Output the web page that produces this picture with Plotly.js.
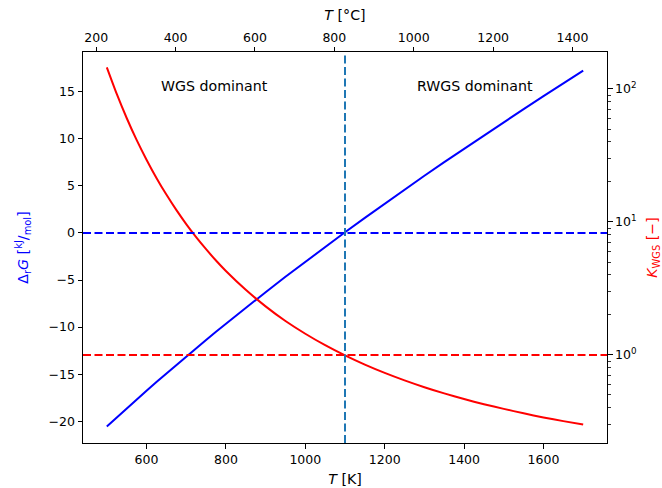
<!DOCTYPE html>
<html><head><meta charset="utf-8">
<script src="https://cdn.plot.ly/plotly-3.0.1.min.js"></script>
<style>html,body{margin:0;padding:0;background:#fff}</style>
</head><body>
<div id="chart" style="width:662px;height:488px"></div>
<script>
// Temperature grid [K]
const temperatureK = [500,525,550,575,600,625,650,675,700,725,750,775,800,850,900,950,1000,1050,1100,1150,1200,1250,1300,1350,1400,1450,1500,1550,1600,1650,1700];
// Gibbs free energy of reaction [kJ/mol]
const deltaG = [-20.55,-19.58,-18.63,-17.68,-16.75,-15.83,-14.92,-14.01,-13.12,-12.24,-11.36,-10.50,-9.64,-7.95,-6.29,-4.66,-3.06,-1.48,0.07,1.60,3.11,4.60,6.06,7.51,8.94,10.35,11.75,13.14,14.51,15.87,17.22];
// Equilibrium constant K_WGS [-]
const kWGS = [145.3,91.7,60.5,41.4,29.4,21.44,16.07,12.32,9.64,7.69,6.24,5.13,4.28,3.09,2.32,1.80,1.444,1.184,0.992,0.846,0.733,0.644,0.572,0.514,0.466,0.426,0.393,0.364,0.339,0.318,0.300];
// Reference lines
const equilibriumT = [1100];
const zeroDeltaG = [0];
const unitK = [1];
const KELVIN_OFFSET = 273.15;
// Tick labels
const kTickVals = [1, 10, 100];
const kTickText = ['10<sup>0</sup>', '10<sup>1</sup>', '10<sup>2</sup>'];
const kMinorVals = [0.3,0.4,0.5,0.6,0.7,0.8,0.9,2,3,4,5,6,7,8,9,20,30,40,50,60,70,80,90];
const regionLabels = ['WGS dominant', 'RWGS dominant'];

const temperatureC = temperatureK.map(t => t - KELVIN_OFFSET);
const xRange = [440, 1760];
const font = {family: 'DejaVu Sans, sans-serif', size: 12.5, color: '#000'};
const labelFont = {family: 'DejaVu Sans, sans-serif', size: 14.2, color: '#000'};
const dashPattern = '8px,3.5px';

const traces = [
  {x: temperatureK, y: deltaG, xaxis: 'x', yaxis: 'y', mode: 'lines',
   line: {color: '#0000ff', width: 2}, hoverinfo: 'skip', showlegend: false},
  {x: temperatureK, y: kWGS, xaxis: 'x', yaxis: 'y2', mode: 'lines',
   line: {color: '#ff0000', width: 2, shape: 'spline', smoothing: 0.6}, hoverinfo: 'skip', showlegend: false},
  {x: temperatureC, y: deltaG, xaxis: 'x2', yaxis: 'y', mode: 'lines',
   line: {color: 'rgba(0,0,0,0)', width: 0}, hoverinfo: 'skip', showlegend: false}
];

const axisCommon = {
  showgrid: false, zeroline: false, showline: true, linecolor: '#000', linewidth: 1,
  ticks: 'outside', ticklen: 4.5, tickwidth: 1, tickcolor: '#000', tickfont: font
};

const layout = {
  width: 662, height: 488,
  margin: {l: 83, r: 55, t: 52, b: 45, pad: 0},
  paper_bgcolor: '#fff', plot_bgcolor: '#fff',
  font: font,
  showlegend: false,
  xaxis: Object.assign({}, axisCommon, {
    range: xRange, tick0: 0, dtick: 200, side: 'bottom', anchor: 'y',
    title: {text: '<i>T</i> [K]', font: labelFont, standoff: 8}
  }),
  xaxis2: Object.assign({}, axisCommon, {
    range: xRange.map(v => v - KELVIN_OFFSET), tick0: 0, dtick: 200,
    side: 'top', overlaying: 'x', anchor: 'y',
    title: {text: '<i>T</i> [°C]', font: labelFont, standoff: 5}
  }),
  yaxis: Object.assign({}, axisCommon, {
    range: [-22.3, 19.2], tick0: 0, dtick: 5, side: 'left', anchor: 'x',
    title: {text: 'Δ<sub>r</sub><i>G</i> [<sup>kJ</sup>/<sub>mol</sub>]', font: Object.assign({}, labelFont, {color: '#0000ff'}), standoff: 16}
  }),
  yaxis2: Object.assign({}, axisCommon, {
    type: 'log', range: [-0.662, 2.278], side: 'right', overlaying: 'y', anchor: 'x',
    tickmode: 'array', tickvals: kTickVals, ticktext: kTickText,
    minor: {tickmode: 'array', tickvals: kMinorVals, ticks: 'outside', ticklen: 2.5, tickwidth: 0.8, tickcolor: '#000', showgrid: false},
    title: {text: '<i>K</i><sub>WGS</sub> [−]', font: Object.assign({}, labelFont, {color: '#ff0000'}), standoff: 13}
  }),
  shapes: [
    {type: 'line', xref: 'paper', x0: 0, x1: 1, yref: 'y', y0: zeroDeltaG[0], y1: zeroDeltaG[0],
     line: {color: '#0000ff', width: 2, dash: dashPattern}},
    {type: 'line', xref: 'paper', x0: 0, x1: 1, yref: 'y2', y0: unitK[0], y1: unitK[0],
     line: {color: '#ff0000', width: 2, dash: dashPattern}},
    {type: 'line', xref: 'x', x0: equilibriumT[0], x1: equilibriumT[0], yref: 'paper', y0: 0, y1: 1,
     line: {color: '#1f77b4', width: 2, dash: dashPattern}}
  ],
  annotations: [
    {text: regionLabels[0], x: 770, y: 15.6, xref: 'x', yref: 'y', showarrow: false, font: labelFont},
    {text: regionLabels[1], x: 1427, y: 15.6, xref: 'x', yref: 'y', showarrow: false, font: labelFont}
  ]
};

Plotly.newPlot('chart', traces, layout, {staticPlot: true, displayModeBar: false});
</script>
</body></html>
